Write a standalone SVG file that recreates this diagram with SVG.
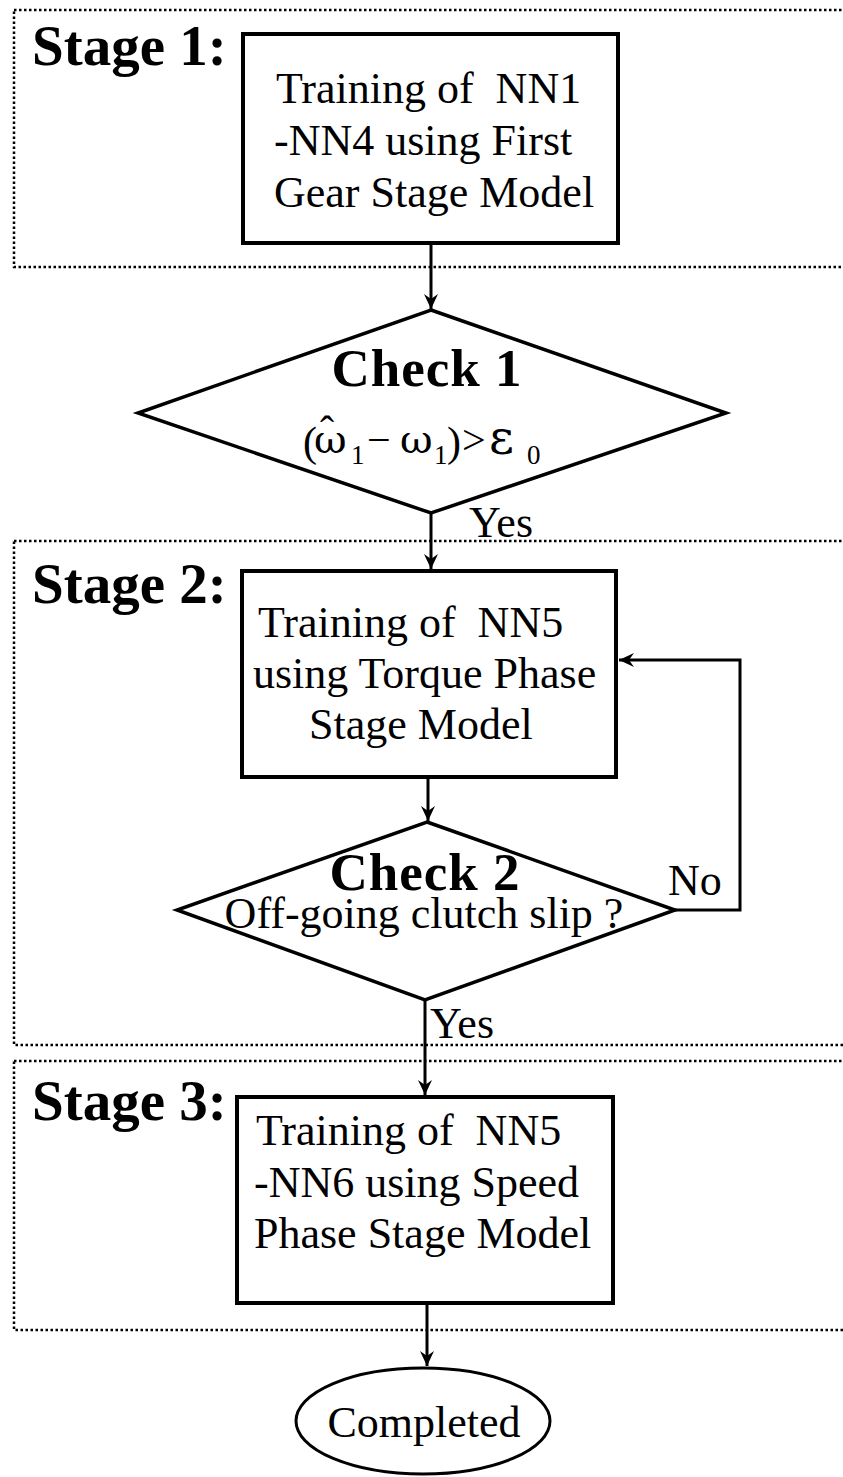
<svg xmlns="http://www.w3.org/2000/svg" width="843" height="1477" viewBox="0 0 843 1477">
<style>
.stage{fill:none;stroke:#000;stroke-width:2.5;stroke-dasharray:2.5 2.5}
.box{fill:#fff;stroke:#000;stroke-width:4}
.dia{fill:#fff;stroke:#000;stroke-width:3.5;stroke-linejoin:miter}
.conn{fill:none;stroke:#000;stroke-width:3}
.lbl{font-family:"Liberation Serif","Times New Roman",serif;font-weight:bold;font-size:57px;fill:#000}
.chk{font-family:"Liberation Serif","Times New Roman",serif;font-weight:bold;font-size:53px;letter-spacing:1px;fill:#000}
.t{font-family:"Liberation Serif","Times New Roman",serif;font-size:44px;fill:#000}
.m{font-family:"Liberation Serif","DejaVu Serif",serif;font-size:42px;fill:#000}
.g{font-family:"DejaVu Serif","Liberation Serif",serif}
.s{font-size:27px}
</style>
<defs>
<marker id="arr" markerUnits="userSpaceOnUse" viewBox="-16 -8 18 16" refX="0" refY="0" markerWidth="18" markerHeight="16" orient="auto">
<path d="M0,0 L-15,-7 L-10,0 L-15,7 Z" fill="#000"/>
</marker>
</defs>

<g id="stage1">
<rect class="stage" x="14" y="10" width="860" height="257"/>
<text class="lbl" x="32" y="65">Stage 1:</text>
</g>
<g id="stage2">
<rect class="stage" x="14" y="541" width="860" height="504"/>
<text class="lbl" x="32" y="603">Stage 2:</text>
</g>
<g id="stage3">
<rect class="stage" x="14" y="1061" width="860" height="269"/>
<text class="lbl" x="32" y="1120">Stage 3:</text>
</g>

<g id="connectors">
<line class="conn" x1="431" y1="243" x2="431" y2="309" marker-end="url(#arr)"/>
<line class="conn" x1="431" y1="513" x2="431" y2="569" marker-end="url(#arr)"/>
<line class="conn" x1="428" y1="777" x2="428" y2="821" marker-end="url(#arr)"/>
<polyline class="conn" points="675,910 740,910 740,660 619,660" marker-end="url(#arr)"/>
<line class="conn" x1="425" y1="1000" x2="425" y2="1095" marker-end="url(#arr)"/>
<line class="conn" x1="427" y1="1303" x2="427" y2="1366" marker-end="url(#arr)"/>
<text class="t" x="469" y="537">Yes</text>
<text class="t" x="430" y="1038">Yes</text>
<text class="t" x="668" y="895">No</text>
</g>

<g id="box1">
<rect class="box" x="243" y="34" width="375" height="209"/>
<text class="t" x="276" y="103">Training of&#160; NN1</text>
<text class="t" x="274" y="155">-NN4 using First</text>
<text class="t" x="274" y="207">Gear Stage Model</text>
</g>

<g id="check1">
<polygon class="dia" points="431,310 726,413 431,513 138,413"/>
<text class="chk" x="427" y="386" text-anchor="middle">Check 1</text>
<text class="m"><tspan x="303" y="456">(</tspan><tspan class="g" x="314" y="453" font-size="40">ω</tspan><tspan x="320" y="445">ˆ</tspan><tspan class="s" x="351" y="464">1</tspan><tspan x="367" y="454">−</tspan><tspan class="g" x="400" y="453" font-size="40">ω</tspan><tspan class="s" x="434" y="464">1</tspan><tspan x="447" y="456">)</tspan><tspan x="462" y="454">&gt;</tspan><tspan class="g" x="489" y="454" font-size="48">ε</tspan><tspan class="s" x="527" y="464">0</tspan></text>
</g>

<g id="box2">
<rect class="box" x="242" y="571" width="374" height="206"/>
<text class="t" x="258" y="637">Training of&#160; NN5</text>
<text class="t" x="253" y="688">using Torque Phase</text>
<text class="t" x="309" y="739">Stage Model</text>
</g>

<g id="check2">
<polygon class="dia" points="427,822 675,910 425,1000 177,910"/>
<text class="chk" x="425" y="890" text-anchor="middle">Check 2</text>
<text class="t" x="424" y="928" text-anchor="middle">Off-going clutch slip ?</text>
</g>

<g id="box3">
<rect class="box" x="237" y="1097" width="376" height="206"/>
<text class="t" x="256" y="1145">Training of&#160; NN5</text>
<text class="t" x="254" y="1197">-NN6 using Speed</text>
<text class="t" x="254" y="1248">Phase Stage Model</text>
</g>

<g id="completed">
<ellipse cx="423" cy="1421" rx="127" ry="53" fill="#fff" stroke="#000" stroke-width="3"/>
<text class="t" x="424" y="1437" text-anchor="middle">Completed</text>
</g>
</svg>
